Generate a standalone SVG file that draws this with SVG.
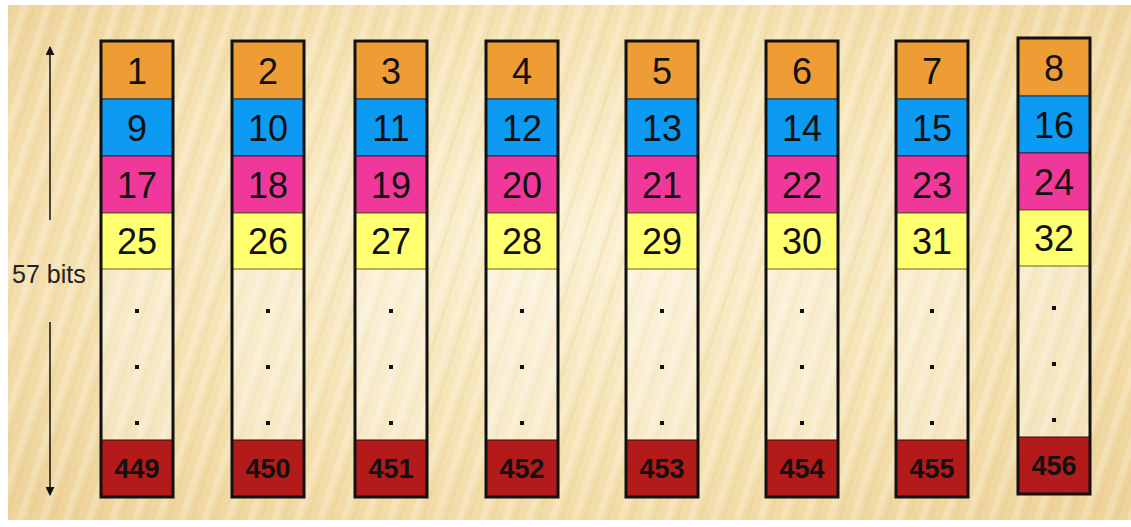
<svg xmlns="http://www.w3.org/2000/svg" width="1131" height="527" viewBox="0 0 1131 527">
  <defs>
    <pattern id="stripes" patternUnits="userSpaceOnUse" width="22" height="22" patternTransform="rotate(18)">
      <rect width="22" height="22" fill="none"/>
      <rect x="0" y="0" width="7" height="22" fill="#ffffff" opacity="0.22"/>
      <rect x="11" y="0" width="3" height="22" fill="#d9b97a" opacity="0.14"/>
    </pattern>
    <radialGradient id="glow" cx="0.5" cy="0.45" r="0.7">
      <stop offset="0" stop-color="#fbf0d2"/>
      <stop offset="0.6" stop-color="#f5e2b2"/>
      <stop offset="1" stop-color="#eed39a"/>
    </radialGradient>
    <marker id="ah" viewBox="0 0 10 10" refX="9" refY="5" markerWidth="9" markerHeight="9" markerUnits="userSpaceOnUse" orient="auto">
      <path d="M0,0 L10,5 L0,10 z" fill="#111"/>
    </marker>
    <style>
      .frame{fill:none;stroke:#111;stroke-width:3}
      .o{fill:#EE9D35;stroke:#5a3a10;stroke-width:1}
      .b{fill:#0C9AF2;stroke:#0a3a5a;stroke-width:1}
      .p{fill:#F0389B;stroke:#5a1038;stroke-width:1}
      .y{fill:#FFFF70;stroke:#66661a;stroke-width:1}
      .r{fill:#B31B1B;stroke:#3a0a0a;stroke-width:1}
      .e{fill:#ffffff;fill-opacity:0.28}
      .n{font-family:"Liberation Sans",Arial,sans-serif;font-size:36px;fill:#111;text-anchor:middle}
      .rn{font-family:"Liberation Sans",Arial,sans-serif;font-size:27px;font-weight:bold;fill:#111;text-anchor:middle}
      .lbl{font-family:"Liberation Sans",Arial,sans-serif;font-size:25px;fill:#222}
      .dot{fill:#111}
      .conn{stroke:#111;stroke-width:1.5;fill:none}
    </style>
  </defs>
  <rect width="1131" height="527" fill="#ffffff"/>
  <rect x="8" y="5" width="1123" height="515" fill="url(#glow)"/>
  <rect x="8" y="5" width="1123" height="515" fill="url(#stripes)"/>

  <text class="lbl" x="12" y="283">57 bits</text>

  <g id="connectors">
    <line class="conn" x1="50" y1="220" x2="50" y2="47" marker-end="url(#ah)"/>
    <line class="conn" x1="50" y1="322" x2="50" y2="495" marker-end="url(#ah)"/>
  </g>

  <g id="col1" transform="translate(101,41)">
    <rect class="e" x="0" y="228" width="72" height="171"/>
    <rect class="o" x="0" y="0" width="72" height="58"/>
    <rect class="b" x="0" y="58" width="72" height="57"/>
    <rect class="p" x="0" y="115" width="72" height="57"/>
    <rect class="y" x="0" y="172" width="72" height="56"/>
    <rect class="r" x="0" y="399" width="72" height="57"/>
    <rect class="dot" x="34" y="268" width="4" height="4"/>
    <rect class="dot" x="34" y="324" width="4" height="4"/>
    <rect class="dot" x="34" y="380" width="4" height="4"/>
    <rect class="frame" x="0" y="0" width="72" height="456"/>
    <text class="n" x="36" y="43">1</text>
    <text class="n" x="36" y="100">9</text>
    <text class="n" x="36" y="157">17</text>
    <text class="n" x="36" y="213">25</text>
    <text class="rn" x="36" y="437">449</text>
  </g>

  <g id="col2" transform="translate(232,41)">
    <rect class="e" x="0" y="228" width="72" height="171"/>
    <rect class="o" x="0" y="0" width="72" height="58"/>
    <rect class="b" x="0" y="58" width="72" height="57"/>
    <rect class="p" x="0" y="115" width="72" height="57"/>
    <rect class="y" x="0" y="172" width="72" height="56"/>
    <rect class="r" x="0" y="399" width="72" height="57"/>
    <rect class="dot" x="34" y="268" width="4" height="4"/>
    <rect class="dot" x="34" y="324" width="4" height="4"/>
    <rect class="dot" x="34" y="380" width="4" height="4"/>
    <rect class="frame" x="0" y="0" width="72" height="456"/>
    <text class="n" x="36" y="43">2</text>
    <text class="n" x="36" y="100">10</text>
    <text class="n" x="36" y="157">18</text>
    <text class="n" x="36" y="213">26</text>
    <text class="rn" x="36" y="437">450</text>
  </g>

  <g id="col3" transform="translate(355,41)">
    <rect class="e" x="0" y="228" width="72" height="171"/>
    <rect class="o" x="0" y="0" width="72" height="58"/>
    <rect class="b" x="0" y="58" width="72" height="57"/>
    <rect class="p" x="0" y="115" width="72" height="57"/>
    <rect class="y" x="0" y="172" width="72" height="56"/>
    <rect class="r" x="0" y="399" width="72" height="57"/>
    <rect class="dot" x="34" y="268" width="4" height="4"/>
    <rect class="dot" x="34" y="324" width="4" height="4"/>
    <rect class="dot" x="34" y="380" width="4" height="4"/>
    <rect class="frame" x="0" y="0" width="72" height="456"/>
    <text class="n" x="36" y="43">3</text>
    <text class="n" x="36" y="100">11</text>
    <text class="n" x="36" y="157">19</text>
    <text class="n" x="36" y="213">27</text>
    <text class="rn" x="36" y="437">451</text>
  </g>

  <g id="col4" transform="translate(486,41)">
    <rect class="e" x="0" y="228" width="72" height="171"/>
    <rect class="o" x="0" y="0" width="72" height="58"/>
    <rect class="b" x="0" y="58" width="72" height="57"/>
    <rect class="p" x="0" y="115" width="72" height="57"/>
    <rect class="y" x="0" y="172" width="72" height="56"/>
    <rect class="r" x="0" y="399" width="72" height="57"/>
    <rect class="dot" x="34" y="268" width="4" height="4"/>
    <rect class="dot" x="34" y="324" width="4" height="4"/>
    <rect class="dot" x="34" y="380" width="4" height="4"/>
    <rect class="frame" x="0" y="0" width="72" height="456"/>
    <text class="n" x="36" y="43">4</text>
    <text class="n" x="36" y="100">12</text>
    <text class="n" x="36" y="157">20</text>
    <text class="n" x="36" y="213">28</text>
    <text class="rn" x="36" y="437">452</text>
  </g>

  <g id="col5" transform="translate(626,41)">
    <rect class="e" x="0" y="228" width="72" height="171"/>
    <rect class="o" x="0" y="0" width="72" height="58"/>
    <rect class="b" x="0" y="58" width="72" height="57"/>
    <rect class="p" x="0" y="115" width="72" height="57"/>
    <rect class="y" x="0" y="172" width="72" height="56"/>
    <rect class="r" x="0" y="399" width="72" height="57"/>
    <rect class="dot" x="34" y="268" width="4" height="4"/>
    <rect class="dot" x="34" y="324" width="4" height="4"/>
    <rect class="dot" x="34" y="380" width="4" height="4"/>
    <rect class="frame" x="0" y="0" width="72" height="456"/>
    <text class="n" x="36" y="43">5</text>
    <text class="n" x="36" y="100">13</text>
    <text class="n" x="36" y="157">21</text>
    <text class="n" x="36" y="213">29</text>
    <text class="rn" x="36" y="437">453</text>
  </g>

  <g id="col6" transform="translate(766,41)">
    <rect class="e" x="0" y="228" width="72" height="171"/>
    <rect class="o" x="0" y="0" width="72" height="58"/>
    <rect class="b" x="0" y="58" width="72" height="57"/>
    <rect class="p" x="0" y="115" width="72" height="57"/>
    <rect class="y" x="0" y="172" width="72" height="56"/>
    <rect class="r" x="0" y="399" width="72" height="57"/>
    <rect class="dot" x="34" y="268" width="4" height="4"/>
    <rect class="dot" x="34" y="324" width="4" height="4"/>
    <rect class="dot" x="34" y="380" width="4" height="4"/>
    <rect class="frame" x="0" y="0" width="72" height="456"/>
    <text class="n" x="36" y="43">6</text>
    <text class="n" x="36" y="100">14</text>
    <text class="n" x="36" y="157">22</text>
    <text class="n" x="36" y="213">30</text>
    <text class="rn" x="36" y="437">454</text>
  </g>

  <g id="col7" transform="translate(896,41)">
    <rect class="e" x="0" y="228" width="72" height="171"/>
    <rect class="o" x="0" y="0" width="72" height="58"/>
    <rect class="b" x="0" y="58" width="72" height="57"/>
    <rect class="p" x="0" y="115" width="72" height="57"/>
    <rect class="y" x="0" y="172" width="72" height="56"/>
    <rect class="r" x="0" y="399" width="72" height="57"/>
    <rect class="dot" x="34" y="268" width="4" height="4"/>
    <rect class="dot" x="34" y="324" width="4" height="4"/>
    <rect class="dot" x="34" y="380" width="4" height="4"/>
    <rect class="frame" x="0" y="0" width="72" height="456"/>
    <text class="n" x="36" y="43">7</text>
    <text class="n" x="36" y="100">15</text>
    <text class="n" x="36" y="157">23</text>
    <text class="n" x="36" y="213">31</text>
    <text class="rn" x="36" y="437">455</text>
  </g>

  <g id="col8" transform="translate(1018,38)">
    <rect class="e" x="0" y="228" width="72" height="171"/>
    <rect class="o" x="0" y="0" width="72" height="58"/>
    <rect class="b" x="0" y="58" width="72" height="57"/>
    <rect class="p" x="0" y="115" width="72" height="57"/>
    <rect class="y" x="0" y="172" width="72" height="56"/>
    <rect class="r" x="0" y="399" width="72" height="57"/>
    <rect class="dot" x="34" y="268" width="4" height="4"/>
    <rect class="dot" x="34" y="324" width="4" height="4"/>
    <rect class="dot" x="34" y="380" width="4" height="4"/>
    <rect class="frame" x="0" y="0" width="72" height="456"/>
    <text class="n" x="36" y="43">8</text>
    <text class="n" x="36" y="100">16</text>
    <text class="n" x="36" y="157">24</text>
    <text class="n" x="36" y="213">32</text>
    <text class="rn" x="36" y="437">456</text>
  </g>
</svg>
